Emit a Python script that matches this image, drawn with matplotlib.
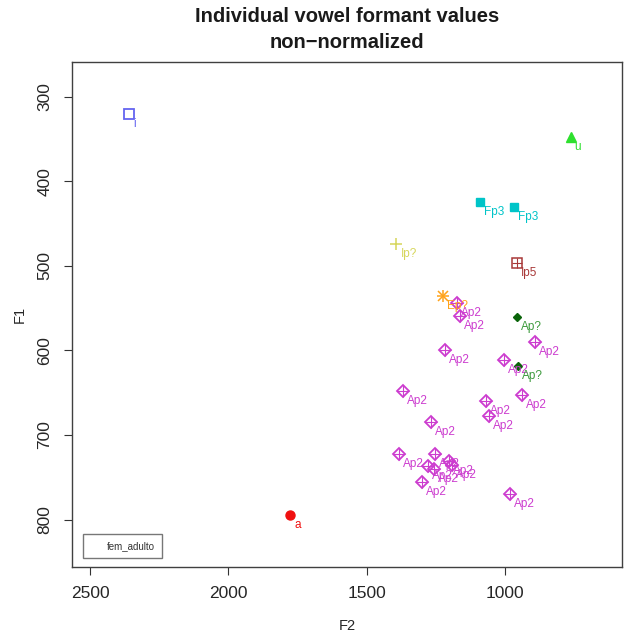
import matplotlib
matplotlib.use("Agg")
import matplotlib.pyplot as plt
from matplotlib.lines import Line2D

plt.rcParams['font.family'] = ['Liberation Sans', 'DejaVu Sans']

# Token labels and formant values (Hz)
tokens = ["i", "u", "Fp3", "Fp3", "Ip5", "Ip?", "Ep?",
          "Ap2", "Ap2", "Ap2", "Ap2", "Ap2", "Ap2", "Ap2", "Ap2", "Ap2",
          "Ap2", "Ap2", "Ap2", "Ap2", "Ap2", "Ap2", "Ap2", "Ap2", "Ap2",
          "Ap?", "Ap?", "a"]
f2 = [2359, 764, 1090, 967, 959, 1393, 1223,
      1173, 1162, 1216, 1006, 894, 1368, 941, 1068, 1057,
      1267, 1382, 1252, 1278, 1256, 1202, 1191, 1299, 981,
      956, 955, 1777]
f1 = [320, 348, 424, 431, 497, 474, 536,
      544, 559, 600, 611, 590, 648, 653, 660, 678,
      685, 723, 723, 737, 740, 731, 736, 755, 770,
      561, 618, 795]

x_ticks = [2500, 2000, 1500, 1000]
y_ticks = [300, 400, 500, 600, 700, 800]
legend_label = "fem_adulto"

# marker kind, marker colour, label colour
styles = {
    "i":   ("open_square", "#6464f0", "#6464f0"),
    "u":   ("triangle", "#2ee02e", "#2ee02e"),
    "Fp3": ("square", "#00c4c8", "#00c4c8"),
    "Ip5": ("square_plus", "#a83838", "#a83838"),
    "Ip?": ("plus", "#d6d65a", "#d6d65a"),
    "Ep?": ("asterisk", "#ffa31a", "#ffa31a"),
    "Ap2": ("diamond_plus", "#cc3ccf", "#cc3ccf"),
    "Ap?": ("small_diamond", "#0a640a", "#3c9a3c"),
    "a":   ("circle", "#f01010", "#f01010"),
}

fig = plt.figure(figsize=(6.25, 6.37), dpi=100)
ax = fig.add_axes([72 / 625, 1 - 567 / 637, 550 / 625, 505 / 637])


def draw_marker(x, y, kind, color):
    if kind == "open_square":
        ax.plot(x, y, marker="s", ms=6.5, mfc="none", mec=color, mew=1.3)
    elif kind == "triangle":
        ax.plot(x, y, marker="^", ms=7.5, color=color, mec=color)
    elif kind == "square":
        ax.plot(x, y, marker="s", ms=6, color=color, mec=color)
    elif kind == "square_plus":
        ax.plot(x, y, marker="s", ms=6.5, mfc="none", mec=color, mew=1.1)
        ax.plot(x, y, marker="+", ms=6.5, mec=color, mew=0.8)
    elif kind == "plus":
        ax.plot(x, y, marker="+", ms=9, mec=color, mew=1.1)
    elif kind == "asterisk":
        ax.plot(x, y, marker="+", ms=9, mec=color, mew=1.1)
        ax.plot(x, y, marker="x", ms=6.5, mec=color, mew=1.1)
    elif kind == "diamond_plus":
        ax.plot(x, y, marker="D", ms=5.9, mfc="none", mec=color, mew=1.3)
        ax.plot(x, y, marker="+", ms=8, mec=color, mew=0.8)
    elif kind == "small_diamond":
        ax.plot(x, y, marker="D", ms=4.2, color=color, mec=color)
    elif kind == "circle":
        ax.plot(x, y, marker="o", ms=6.5, color=color, mec=color)


order = ["i", "u", "Fp3", "Ip5", "Ip?", "Ep?", "Ap2", "Ap?", "a"]
for name in order:
    kind, mcol, tcol = styles[name]
    for tok, x, y in zip(tokens, f2, f1):
        if tok != name:
            continue
        draw_marker(x, y, kind, mcol)
        ax.annotate(tok, (x, y), xytext=(4, -10), textcoords="offset pixels",
                    ha="left", va="center", fontsize=8.5, color=tcol)

ax.set_xlim(2565, 578)
ax.set_ylim(856, 259)

ax.set_xticks(x_ticks)
ax.set_xticklabels([str(v) for v in x_ticks])
ax.set_yticks(y_ticks)
ax.set_yticklabels([str(v) for v in y_ticks], rotation=90, va="center")
ax.tick_params(direction="out", length=6, width=0.8, colors="#333333",
               labelsize=12.5, pad=8)
for lab in ax.get_xticklabels() + ax.get_yticklabels():
    lab.set_color("#262626")
for sp in ax.spines.values():
    sp.set_color("#404040")
    sp.set_linewidth(1.0)

ax.set_xlabel("F2", fontsize=10.5, color="#262626", labelpad=13)
ax.set_ylabel("F1", fontsize=10.5, color="#262626", labelpad=8)

fig.text(347 / 625, 1 - 17 / 637, "Individual vowel formant values",
         ha="center", va="center", fontsize=14.5, fontweight="bold", color="#1a1a1a")
fig.text(347 / 625, 1 - 42 / 637, "non\u2212normalized",
         ha="center", va="center", fontsize=14.5, fontweight="bold", color="#1a1a1a")

handle = Line2D([], [], linestyle="none")
leg = ax.legend([handle], [legend_label], loc="lower left",
                bbox_to_anchor=(11 / 550, 9 / 505), fontsize=7,
                frameon=True, fancybox=False, borderpad=0.7,
                handlelength=1.2, handletextpad=0.6, borderaxespad=0)
leg.get_frame().set_edgecolor("#555555")
leg.get_frame().set_linewidth(1.0)
for t in leg.get_texts():
    t.set_color("#333333")

fig.savefig("out.png", dpi=100, facecolor="white")
